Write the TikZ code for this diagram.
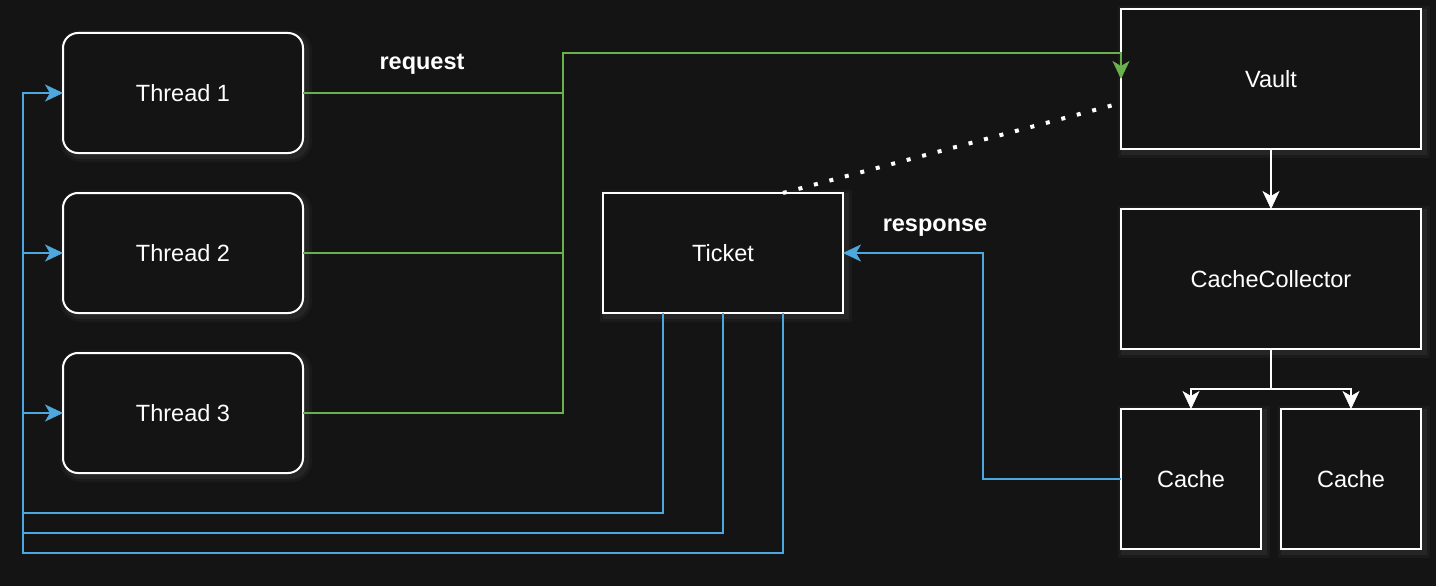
\documentclass[tikz,border=0pt]{standalone}
\usepackage{fontspec}
\setmainfont{Liberation Sans}
\usetikzlibrary{arrows.meta}
\definecolor{bg}{HTML}{141414}
\definecolor{grn}{HTML}{6AB04C}
\definecolor{blu}{HTML}{4DA8DF}
\begin{document}
\begin{tikzpicture}[x=1pt,y=-1pt,
  glow/.style={preaction={draw=gray,line width=12pt,draw opacity=0.07,transform canvas={xshift=3pt,yshift=-3pt}},
               preaction={draw=gray,line width=6pt,draw opacity=0.10,transform canvas={xshift=3pt,yshift=-3pt}}},
  box/.style={draw=white,line width=2pt,fill=bg,inner sep=0pt,outer sep=0pt,text=white,
    font=\fontsize{23.5}{27}\selectfont,anchor=north west,glow},
  thr/.style={box,rounded corners=15pt,minimum width=240pt,minimum height=120pt},
  sq/.style={box,minimum width=300pt,minimum height=140pt},
  tip/.style={-{Stealth[length=18pt,width=17pt,inset=5pt,line width=0.5pt,color=#1,fill=#1]}},
  gline/.style={color=grn,line width=2pt,tip=grn},
  bline/.style={color=blu,line width=2pt},
  btip/.style={bline,tip=blu},
  wline/.style={color=white,line width=2pt},
  wtip/.style={wline,tip=white},
  lbl/.style={text=white,font=\fontsize{23.5}{27}\selectfont\bfseries,inner sep=0pt}
]
\fill[bg] (0,0) rectangle (1436,586);
\useasboundingbox (0,0) rectangle (1436,586);

\node[thr] (t1) at (63,33) {Thread 1};
\node[thr] (t2) at (63,193) {Thread 2};
\node[thr] (t3) at (63,353) {Thread 3};
\node[box,minimum width=240pt,minimum height=120pt] (ticket) at (603,193) {Ticket};
\node[sq] (vault) at (1121,9) {Vault};
\node[sq] (cc) at (1121,209) {CacheCollector};
\node[box,minimum width=140pt,minimum height=140pt] (c1) at (1121,409) {Cache};
\node[box,minimum width=140pt,minimum height=140pt] (c2) at (1281,409) {Cache};

\node[lbl] (req) at (422,64) {request};
\node[lbl] (resp) at (935,228) {response};

% request (green)
\coordinate (gtop) at (563,53);
\draw[color=grn,line width=2pt] (t1.east) -- (t1.east -| gtop);
\draw[color=grn,line width=2pt] (t2.east) -- (t2.east -| gtop);
\draw[gline] (t3.east) -| (gtop) -| (vault.west);

% dotted association
\coordinate (tk) at ([xshift=60pt]ticket.north);
\coordinate (vd) at ([yshift=-24pt]vault.west);
\draw[white,line width=4pt,dash pattern=on 4pt off 12pt] (tk) -- (vd);

% returns (blue)
\coordinate (r1) at (23,513);
\coordinate (r2) at (23,533);
\coordinate (r3) at (23,553);
\draw[btip] ([xshift=-60pt]ticket.south) |- (r1) |- (t1.west);
\draw[btip] (ticket.south) |- (r2) |- (t2.west);
\draw[btip] ([xshift=60pt]ticket.south) |- (r3) |- (t3.west);

% response
\coordinate (rj) at (983,253);
\draw[btip] (c1.west) -| (rj) -- (ticket.east);

% vault tree
\draw[wtip] (vault.south) -- (cc.north);
\coordinate (ccj) at (1271,389);
\draw[wline] (cc.south) -- (ccj);
\draw[wtip] (ccj) -| (c1.north);
\draw[wtip] (ccj) -| (c2.north);
\end{tikzpicture}
\end{document}
